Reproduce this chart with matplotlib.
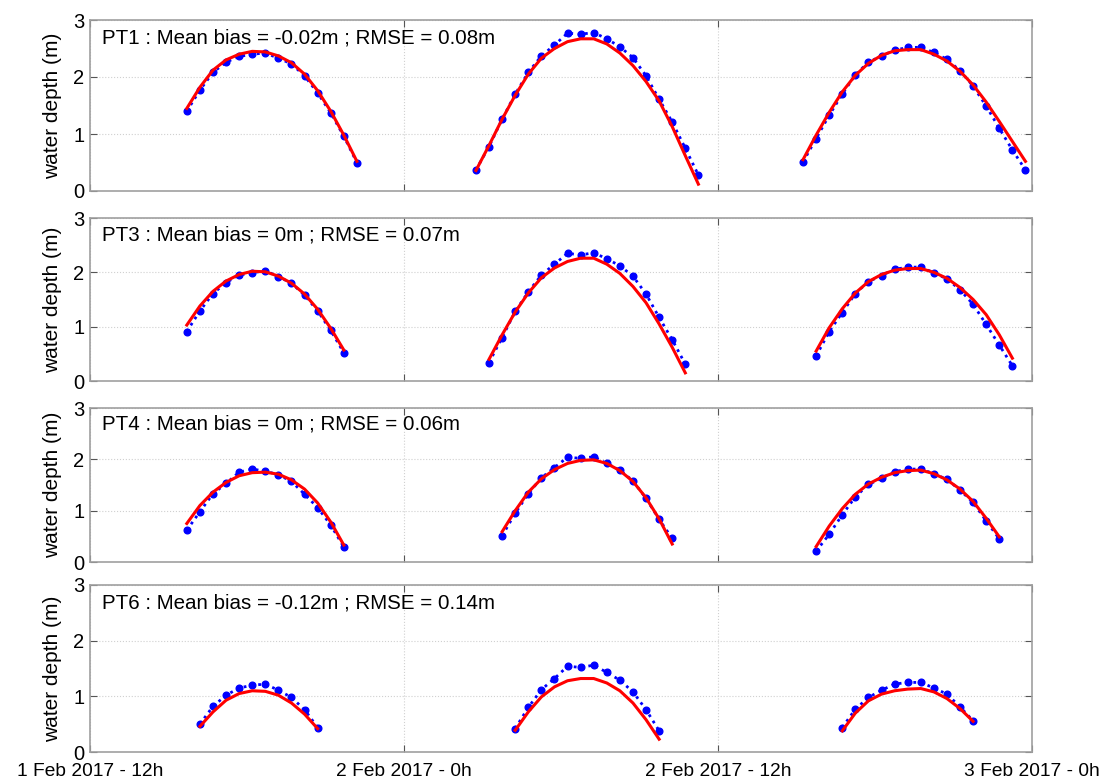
import numpy as np
import pandas as pd
import matplotlib
matplotlib.use('Agg')
import matplotlib.pyplot as plt
import matplotlib.dates as mdates
from matplotlib.ticker import FuncFormatter

plt.rcParams['font.family'] = ['Liberation Sans', 'DejaVu Sans']

# sensor names and stats text
sensors = ['PT1', 'PT3', 'PT4', 'PT6']
mean_bias = ['-0.02m', '0m', '0m', '-0.12m']
rmse = ['0.08m', '0.07m', '0.06m', '0.14m']

# start of each tide (30 min sampling)
pt1_start = ['2017-02-01 15:42', '2017-02-02 02:45', '2017-02-02 15:15']
pt3_start = ['2017-02-01 15:42', '2017-02-02 03:15', '2017-02-02 15:45']
pt4_start = ['2017-02-01 15:42', '2017-02-02 03:45', '2017-02-02 15:45']
pt6_start = ['2017-02-01 16:12', '2017-02-02 04:15', '2017-02-02 16:45']

# observed water depth (m)
pt1_obs = [[1.40, 1.77, 2.08, 2.26, 2.36, 2.40, 2.42, 2.33, 2.23, 2.02, 1.72, 1.37, 0.96, 0.50],
           [0.37, 0.78, 1.26, 1.70, 2.08, 2.37, 2.56, 2.77, 2.75, 2.78, 2.67, 2.53, 2.34, 2.02, 1.61, 1.21, 0.75, 0.28],
           [0.51, 0.92, 1.33, 1.70, 2.04, 2.26, 2.37, 2.47, 2.52, 2.52, 2.43, 2.31, 2.11, 1.84, 1.49, 1.10, 0.72, 0.37]]
pt3_obs = [[0.91, 1.29, 1.61, 1.81, 1.95, 1.99, 2.03, 1.92, 1.80, 1.58, 1.29, 0.93, 0.52],
           [0.34, 0.80, 1.28, 1.64, 1.95, 2.15, 2.35, 2.32, 2.36, 2.25, 2.12, 1.93, 1.60, 1.17, 0.76, 0.31],
           [0.46, 0.91, 1.26, 1.61, 1.83, 1.94, 2.06, 2.09, 2.10, 1.99, 1.88, 1.68, 1.41, 1.04, 0.66, 0.28]]
pt4_obs = [[0.62, 0.98, 1.33, 1.53, 1.75, 1.81, 1.77, 1.70, 1.57, 1.32, 1.06, 0.72, 0.29],
           [0.51, 0.95, 1.33, 1.64, 1.84, 2.04, 2.02, 2.05, 1.92, 1.79, 1.58, 1.24, 0.83, 0.46],
           [0.21, 0.54, 0.92, 1.27, 1.51, 1.63, 1.76, 1.81, 1.81, 1.72, 1.61, 1.40, 1.16, 0.80, 0.45]]
pt6_obs = [[0.50, 0.82, 1.02, 1.15, 1.20, 1.22, 1.11, 0.98, 0.76, 0.44],
           [0.42, 0.80, 1.12, 1.32, 1.54, 1.52, 1.56, 1.43, 1.29, 1.08, 0.76, 0.38],
           [0.44, 0.77, 0.98, 1.11, 1.22, 1.25, 1.25, 1.15, 1.04, 0.81, 0.56]]

# modelled water depth (m)
pt1_mod = [[1.45, 1.82, 2.12, 2.30, 2.40, 2.45, 2.44, 2.37, 2.25, 2.05, 1.76, 1.40, 0.98, 0.52],
           [0.36, 0.80, 1.26, 1.68, 2.05, 2.33, 2.50, 2.62, 2.67, 2.67, 2.58, 2.42, 2.20, 1.92, 1.58, 1.13, 0.62, 0.12],
           [0.55, 0.98, 1.38, 1.74, 2.03, 2.24, 2.38, 2.46, 2.48, 2.48, 2.40, 2.28, 2.10, 1.86, 1.56, 1.22, 0.87, 0.52]]
pt3_mod = [[1.03, 1.38, 1.65, 1.84, 1.96, 2.02, 2.01, 1.93, 1.80, 1.60, 1.32, 0.97, 0.57],
           [0.40, 0.85, 1.27, 1.62, 1.90, 2.08, 2.20, 2.26, 2.26, 2.15, 1.98, 1.74, 1.44, 1.05, 0.62, 0.15],
           [0.55, 0.98, 1.33, 1.62, 1.83, 1.96, 2.04, 2.07, 2.07, 2.00, 1.89, 1.72, 1.50, 1.22, 0.85, 0.42]]
pt4_mod = [[0.75, 1.10, 1.36, 1.55, 1.68, 1.74, 1.75, 1.71, 1.60, 1.42, 1.15, 0.78, 0.33],
           [0.59, 1.00, 1.36, 1.62, 1.80, 1.92, 1.98, 1.99, 1.92, 1.78, 1.57, 1.25, 0.84, 0.35],
           [0.30, 0.70, 1.04, 1.32, 1.52, 1.65, 1.74, 1.78, 1.79, 1.72, 1.60, 1.42, 1.18, 0.85, 0.49]]
pt6_mod = [[0.46, 0.72, 0.93, 1.05, 1.10, 1.09, 1.02, 0.88, 0.68, 0.42],
           [0.39, 0.72, 0.99, 1.17, 1.28, 1.32, 1.32, 1.24, 1.10, 0.88, 0.58, 0.23],
           [0.38, 0.70, 0.92, 1.04, 1.10, 1.13, 1.14, 1.08, 0.96, 0.78, 0.55]]

starts = [pt1_start, pt3_start, pt4_start, pt6_start]
obs = [pt1_obs, pt3_obs, pt4_obs, pt6_obs]
mod = [pt1_mod, pt3_mod, pt4_mod, pt6_mod]

x0 = pd.Timestamp('2017-02-01 12:00')
x1 = pd.Timestamp('2017-02-03 00:00')
xticks = pd.date_range(x0, x1, freq='12h')

def fmt_date(x, pos):
    d = mdates.num2date(x)
    return '%d %s - %dh' % (d.day, d.strftime('%b %Y'), d.hour)

fig = plt.figure(figsize=(11.13, 7.8), dpi=100)

# axes positions in pixels (top, bottom) measured from top of figure
W, H = 1113., 780.
left, right = 90, 1032
panels = [(20, 191), (218, 381), (408, 562), (585, 752)]

for i in range(4):
    top, bot = panels[i]
    ax = fig.add_axes([left / W, 1 - bot / H, (right - left) / W, (bot - top) / H])

    for j in range(3):
        t = pd.date_range(starts[i][j], periods=len(obs[i][j]), freq='30min')
        ax.plot(t, obs[i][j], ':', color='blue', lw=2, marker='o', ms=4.8, mec='blue', mfc='blue', zorder=3)
        ax.plot(t, mod[i][j], '-', color='red', lw=2.2, zorder=4)

    ax.set_xlim(x0, x1)
    ax.set_ylim(0, 3)
    ax.set_yticks([0, 1, 2, 3])
    ax.set_xticks(xticks)
    ax.xaxis.set_major_formatter(FuncFormatter(fmt_date))
    if i < 3:
        ax.set_xticklabels([])
    ax.grid(True, color='#d0d0d0', linestyle=':', linewidth=0.8)
    ax.tick_params(direction='in', top=True, right=True, length=5, width=0.8, color='#555555',
                   labelsize=14.5, pad=4)
    ax.tick_params(axis='x', pad=8, labelsize=13.8)
    for s in ax.spines.values():
        s.set_color('#a0a0a0')
        s.set_linewidth(1.2)
    ax.set_ylabel('water depth (m)', fontsize=15, labelpad=8)
    ax.text(0.013, 0.895, '%s : Mean bias = %s ; RMSE = %s' % (sensors[i], mean_bias[i], rmse[i]),
            transform=ax.transAxes, fontsize=14.8, va='center', ha='left')

fig.savefig('out.png', dpi=100)
